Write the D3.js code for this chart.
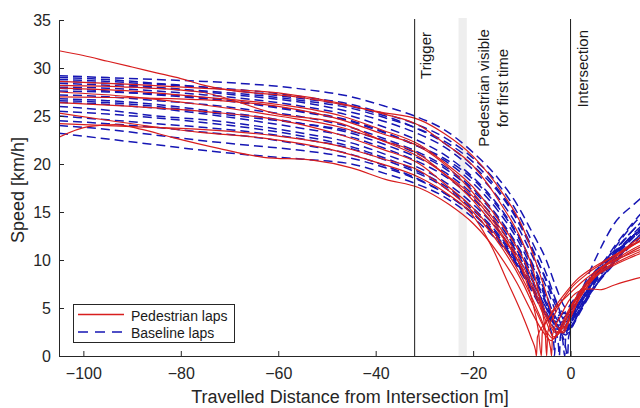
<!DOCTYPE html>
<html>
<head>
<meta charset="utf-8">
<script src="https://cdn.jsdelivr.net/npm/d3@7"></script>
<style>
  html, body { margin: 0; padding: 0; background: #fff; }
  svg { display: block; font-family: "Liberation Sans", Arial, sans-serif; }
</style>
</head>
<body>
<svg id="chart" width="640" height="408"></svg>
<script>
// Speed profiles approaching the intersection: [distance (m), speed (km/h)]
const pedestrianLaps = [
  [[-105,31.8],[-100,31.3],[-95,30.7],[-90,30.1],[-85,29.5],[-80,28.9],[-76,28.3],[-70,27.7],[-65,27.4],[-60,27.2],[-55,26.9],[-47,26.2],[-39,25.4],[-31,24.6],[-26,23.2],[-20,20.8],[-14,17.0],[-10,13.6],[-7,9.6],[-5,6.5],[-3.5,3.8],[-2,2.8],[-0.5,3.5],[1,5.2],[4,7.6],[8,9.8],[13,11.9],[18,13.4]],
  [[-105,28.6],[-90,28.3],[-76,27.9],[-60,27.4],[-47,26.3],[-39,25.3],[-31,24.0],[-26,22.2],[-20,19.8],[-14,15.6],[-10,12.0],[-7.5,8.6],[-6,5.2],[-5.2,2.4],[-4.9,0],[-4.7,2.4],[-3,4.6],[0,7.0],[3,8.4],[7,9.8],[12,11.4],[18,13.0]],
  [[-105,28.2],[-90,28.0],[-76,27.5],[-60,25.2],[-47,24.2],[-39,22.5],[-31,20.7],[-26,19.0],[-20,16.6],[-14,12.6],[-10,9.0],[-8,6.0],[-6.6,2.6],[-6.0,0],[-5.8,2.4],[-4,4.4],[-1,6.6],[1,7.8],[4,9.0],[8,10.2],[13,11.6],[18,12.8]],
  [[-105,27.9],[-90,27.6],[-76,27.0],[-60,26.2],[-47,25.0],[-39,23.6],[-31,22.0],[-26,20.2],[-20,17.6],[-14,13.6],[-10,10.4],[-7,7.0],[-5,4.4],[-3,2.6],[-1.5,2.4],[0,4.0],[2,6.2],[5,8.2],[9,9.8],[13,11.0],[18,12.2]],
  [[-105,27.5],[-90,27.0],[-76,26.2],[-60,25.0],[-47,23.8],[-39,22.5],[-31,21.0],[-26,19.0],[-20,16.2],[-14,12.4],[-10,9.2],[-7,6.0],[-5,3.6],[-3.5,2.0],[-2,2.6],[0,4.8],[2,6.6],[5,8.4],[9,9.6],[13,10.6],[18,11.6]],
  [[-105,26.4],[-90,26.0],[-76,25.5],[-60,24.6],[-47,23.0],[-39,21.6],[-31,20.0],[-26,18.0],[-20,15.4],[-14,11.6],[-10,8.2],[-7,5.0],[-5,2.4],[-4.1,0.8],[-3.9,0],[-3.7,2.2],[-2,4.2],[0,6.0],[2,6.8],[4,7.0],[6,6.9],[9,7.4],[13,8.0],[18,8.6]],
  [[-105,24.2],[-90,23.9],[-76,23.6],[-60,22.9],[-47,21.8],[-39,20.6],[-31,19.3],[-26,17.6],[-20,15.0],[-14,11.2],[-10,7.8],[-7,4.6],[-5,2.6],[-3.5,1.8],[-2,2.8],[0,5.0],[2,6.8],[5,8.6],[9,10.0],[13,11.2],[18,12.4]],
  [[-105,25.3],[-93,24.4],[-76,23.3],[-63,22.7],[-50,21.6],[-40,20.2],[-31,18.6],[-25,16.8],[-20,14.6],[-16,11.2],[-13,7.8],[-10,4.4],[-8,1.8],[-7.2,0.6],[-7.0,0],[-6.8,2.0],[-5,3.6],[-2,5.6],[0,6.6],[3,8.0],[7,9.4],[12,10.6],[18,11.8]],
  [[-105,22.8],[-99,23.9],[-93.5,24.1],[-88,23.6],[-82,22.8],[-72,21.6],[-63,20.7],[-53,20.4],[-45,19.6],[-38,18.4],[-31,17.5],[-25,15.8],[-20,13.8],[-15,10.8],[-11,7.6],[-8,4.6],[-5.5,2.4],[-4,1.6],[-2.5,2.6],[-1,4.2],[1,6.0],[4,7.8],[8,9.2],[13,10.4],[18,11.4]],
  [[-105,27.0],[-90,26.9],[-76,26.7],[-60,26.0],[-47,24.6],[-39,23.2],[-31,21.8],[-25,19.6],[-20,17.0],[-14,13.0],[-10,9.6],[-7,6.4],[-5,4.0],[-3,2.4],[-1.5,2.6],[0,4.4],[2,6.4],[5,8.6],[9,10.2],[13,11.6],[18,13.0]]
];

// Baseline laps sampled on a common distance grid (m)
const baselineGrid = [-105,-95,-85,-75,-65,-55,-45,-38,-32,-26,-20,-15,-11,-8,-5,-3,-1,0,2,5,9,13,17];
const baselineSpeeds = [
  [29.2,29.0,28.8,28.6,28.3,27.8,27.0,26.0,25.0,23.6,21.2,18.6,15.8,13.0,10.0,7.2,5.0,4.8,6.6,10.0,13.8,15.8,17.5],
  [28.8,28.6,28.3,28.0,27.6,27.0,26.2,25.2,24.2,22.8,20.6,18.0,15.0,12.0,8.6,5.8,3.6,3.8,5.4,8.0,10.8,13.2,15.0],
  [28.4,28.2,27.9,27.5,27.0,26.4,25.4,24.4,23.3,21.8,19.4,16.6,13.6,10.6,7.2,4.6,2.6,3.0,4.8,7.6,10.2,12.4,14.2],
  [27.2,27.0,26.6,26.2,25.6,24.9,23.8,22.6,21.4,19.8,17.4,14.6,11.6,8.8,5.6,3.4,2.2,2.8,4.6,7.2,9.8,12.0,13.8],
  [26.4,26.2,25.8,25.2,24.5,23.7,22.8,21.6,20.4,18.8,16.4,13.6,10.8,8.0,5.0,3.0,2.4,3.0,4.8,7.2,9.6,11.8,13.4],
  [25.5,25.2,24.8,24.3,23.7,22.9,21.8,20.6,19.4,17.8,15.4,12.8,10.0,7.4,4.6,2.8,2.8,3.6,5.6,8.0,10.4,12.6,14.4],
  [25.0,24.6,24.2,23.8,23.3,22.6,21.6,20.4,19.2,17.6,15.2,12.6,9.8,7.2,4.4,3.2,3.4,4.4,6.2,8.4,10.6,12.8,14.6],
  [24.5,24.2,23.8,23.3,22.8,22.0,21.0,19.8,18.6,17.0,14.8,12.4,9.6,7.0,4.4,3.4,3.8,4.8,6.6,8.8,11.0,13.2,15.0],
  [24.0,23.6,23.0,22.4,21.9,21.4,20.6,19.6,18.5,17.0,14.8,12.2,9.4,6.8,4.2,3.6,4.2,5.0,6.6,8.6,10.6,12.4,13.8],
  [23.2,22.6,22.0,21.4,20.9,20.5,20.0,19.0,18.0,16.6,14.4,12.0,9.6,7.2,5.0,4.2,4.6,5.4,6.8,8.8,10.8,12.6,14.0],
  [28.6,28.4,28.0,27.6,27.2,26.6,25.8,24.8,23.8,22.4,20.2,17.4,14.4,11.4,7.8,5.2,3.8,4.0,5.6,8.2,11.2,13.8,15.6],
  [27.9,27.6,27.2,26.8,26.2,25.4,24.4,23.2,22.0,20.6,18.4,15.6,12.6,9.6,6.2,4.0,3.0,3.4,5.2,7.8,10.4,12.6,14.2],
  [26.6,26.4,26.0,25.4,24.8,24.2,23.4,22.4,21.2,19.6,17.2,14.4,11.4,8.6,5.4,3.2,2.8,3.4,5.0,7.4,9.8,11.8,13.2],
  [29.0,28.8,28.4,28.0,27.4,26.8,26.0,25.0,23.8,22.2,19.8,17.2,14.2,11.2,8.0,5.6,4.4,4.4,5.8,8.4,11.4,14.0,16.2]
];

// Baseline laps that came to a full stop before the intersection: [distance, speed]
const baselineStopLaps = [
  [[-105,28.0],[-95,27.9],[-85,27.6],[-75,27.2],[-65,26.7],[-55,26.0],[-45,25.0],[-38,23.8],[-32,22.6],[-26,21.0],[-20,18.6],[-15,15.8],[-11,12.8],[-8,9.8],[-5,6.4],[-3,3.6],[-1.6,1.6],[-1.2,0],[-1.0,2.0],[0,3.4],[2,5.2],[5,7.8],[9,10.4],[13,12.6],[17,14.4]],
  [[-105,27.6],[-95,27.5],[-85,27.3],[-75,26.9],[-65,26.3],[-55,25.5],[-45,24.5],[-38,23.3],[-32,22.0],[-26,20.4],[-20,18.0],[-15,15.2],[-11,12.2],[-8,9.2],[-5,5.8],[-3.2,2.8],[-2.5,1.2],[-2.3,0],[-2.1,2.0],[-1,3.2],[0,4.0],[2,5.6],[5,8.0],[9,10.6],[13,12.6],[17,14.2]],
  [[-105,26.8],[-95,26.6],[-85,26.2],[-75,25.6],[-65,25.0],[-55,24.2],[-45,23.2],[-38,22.0],[-32,20.8],[-26,19.2],[-20,16.8],[-15,14.0],[-11,11.0],[-8,8.2],[-5.5,5.0],[-4,2.6],[-3.4,1.0],[-3.3,0],[-3.1,1.8],[-2,3.0],[0,4.4],[2,5.8],[5,7.8],[9,10.0],[13,12.0],[17,13.6]],
  [[-105,26.0],[-95,25.6],[-85,25.0],[-75,24.6],[-65,24.0],[-55,23.2],[-45,22.2],[-38,21.0],[-32,19.8],[-26,18.2],[-20,15.8],[-15,13.2],[-11,10.4],[-8,7.8],[-5,5.0],[-3,3.2],[-1.2,1.4],[-0.6,0],[-0.4,2.0],[0.5,3.2],[2,4.8],[5,7.2],[9,9.8],[13,12.0],[17,13.8]]
];

// Event markers along the approach (m)
const triggerAt = -32;
const visibleBand = [-23, -21.3];
const intersectionAt = 0;

const xTicks = [-100, -80, -60, -40, -20, 0];
const yTicks = [0, 5, 10, 15, 20, 25, 30, 35];

const axisColor = "#262626";
const redColor = "#d81e1e";
const blueColor = "#1616b4";

const svg = d3.select("#chart");
const x = d3.scaleLinear().domain([-105, 20]).range([59, 668]);
const y = d3.scaleLinear().domain([0, 35]).range([356, 20]);

svg.append("defs").append("clipPath").attr("id", "plotClip")
  .append("rect").attr("x", x(-105)).attr("y", y(35) - 2)
  .attr("width", x(20) - x(-105)).attr("height", y(0) - y(35) + 2);

// light band: pedestrian first visible
svg.append("rect")
  .attr("x", x(visibleBand[0])).attr("y", y(35) - 2)
  .attr("width", x(visibleBand[1]) - x(visibleBand[0]))
  .attr("height", y(0) - y(35) + 2)
  .attr("fill", "#eeeeee");

const line = d3.line()
  .x(d => x(d[0])).y(d => y(d[1]))
  .curve(d3.curveMonotoneX);

const baselineLaps = baselineSpeeds.map(s => s.map((v, i) => [baselineGrid[i], v]));
const allBaseline = baselineLaps.concat(baselineStopLaps);

const plot = svg.append("g").attr("clip-path", "url(#plotClip)");

plot.selectAll("path.base").data(allBaseline).join("path")
  .attr("class", "base")
  .attr("d", line)
  .attr("fill", "none")
  .attr("stroke", blueColor)
  .attr("stroke-width", 1.5)
  .attr("stroke-dasharray", "9,5");

plot.selectAll("path.ped").data(pedestrianLaps).join("path")
  .attr("class", "ped")
  .attr("d", line)
  .attr("fill", "none")
  .attr("stroke", redColor)
  .attr("stroke-width", 1.2);

// event lines
[triggerAt, intersectionAt].forEach(v => {
  svg.append("line")
    .attr("x1", x(v)).attr("x2", x(v))
    .attr("y1", y(35) - 1).attr("y2", y(0))
    .attr("stroke", "#1a1a1a").attr("stroke-width", 1);
});

// axes
const xAxis = d3.axisBottom(x).tickValues(xTicks).tickSizeInner(-5).tickSizeOuter(0).tickPadding(12);
const yAxis = d3.axisLeft(y).tickValues(yTicks).tickSizeInner(-5).tickSizeOuter(0).tickPadding(8);

const gx = svg.append("g").attr("transform", `translate(0,${y(0)})`).call(xAxis);
const gy = svg.append("g").attr("transform", `translate(${x(-105)},0)`).call(yAxis);
[gx, gy].forEach(g => {
  g.select(".domain").attr("stroke", axisColor).attr("stroke-width", 1);
  g.selectAll(".tick line").attr("stroke", axisColor);
  g.selectAll(".tick text").attr("fill", axisColor)
    .style("font-size", "16px").style("font-family", "'Liberation Sans', Arial, sans-serif");
});

// axis titles
svg.append("text")
  .attr("x", 350).attr("y", 403)
  .attr("text-anchor", "middle")
  .attr("fill", axisColor)
  .style("font-size", "18px")
  .text("Travelled Distance from Intersection [m]");

svg.append("text")
  .attr("transform", "translate(24,190) rotate(-90)")
  .attr("text-anchor", "middle")
  .attr("fill", axisColor)
  .style("font-size", "18px")
  .text("Speed [km/h]");

// event labels
const labelColor = "#1a1a1a";
svg.append("text")
  .attr("transform", `translate(${x(triggerAt) + 16},32) rotate(-90)`)
  .attr("text-anchor", "end").attr("fill", labelColor)
  .style("font-size", "15px").text("Trigger");

svg.append("text")
  .attr("transform", `translate(489,88) rotate(-90)`)
  .attr("text-anchor", "middle").attr("fill", labelColor)
  .style("font-size", "15px").text("Pedestrian visible");
svg.append("text")
  .attr("transform", `translate(508,88) rotate(-90)`)
  .attr("text-anchor", "middle").attr("fill", labelColor)
  .style("font-size", "15px").text("for first time");

svg.append("text")
  .attr("transform", `translate(${x(intersectionAt) + 17},30) rotate(-90)`)
  .attr("text-anchor", "end").attr("fill", labelColor)
  .style("font-size", "15px").text("Intersection");

// legend
const legendItems = [
  { label: "Pedestrian laps", color: redColor, dash: null, width: 1.5 },
  { label: "Baseline laps", color: blueColor, dash: "10,7", width: 1.5 }
];
const lg = svg.append("g");
lg.append("rect")
  .attr("x", 73.5).attr("y", 304.5).attr("width", 161).attr("height", 38)
  .attr("fill", "#fff").attr("stroke", axisColor).attr("stroke-width", 1);
legendItems.forEach((it, i) => {
  const cy = 314.5 + i * 17.5;
  lg.append("line")
    .attr("x1", 78).attr("x2", 124).attr("y1", cy).attr("y2", cy)
    .attr("stroke", it.color).attr("stroke-width", it.width)
    .attr("stroke-dasharray", it.dash);
  lg.append("text")
    .attr("x", 131).attr("y", cy + 6)
    .attr("fill", "#1a1a1a")
    .style("font-size", "14px")
    .text(it.label);
});
</script>
</body>
</html>
